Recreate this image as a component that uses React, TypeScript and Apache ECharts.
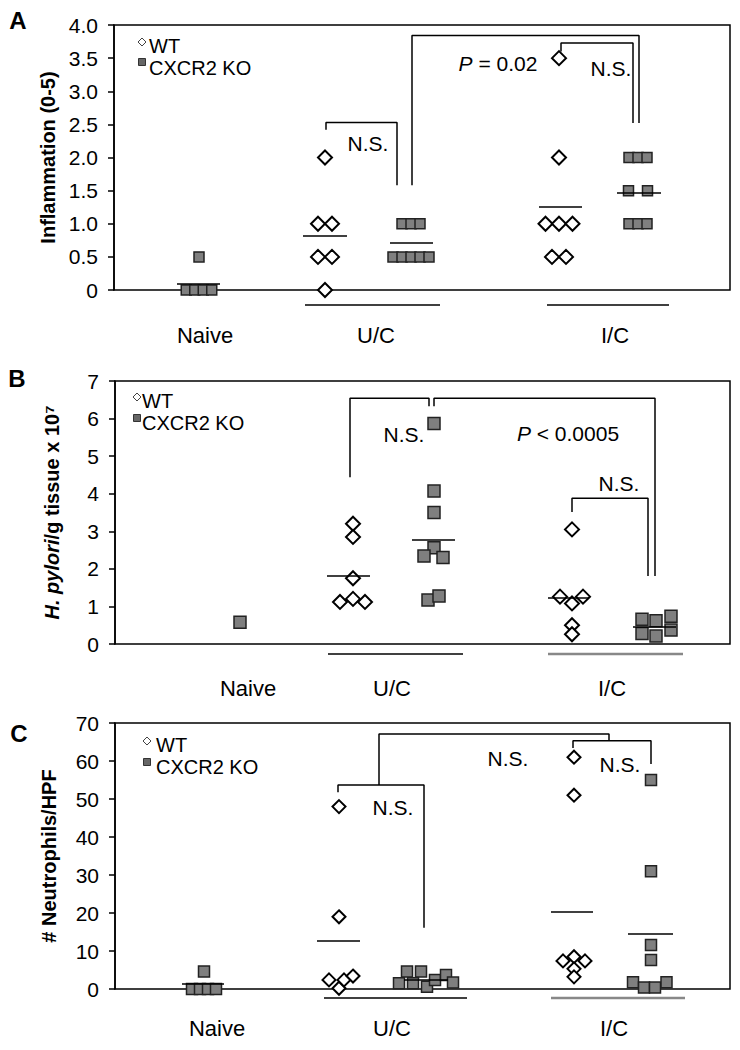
import React, { useEffect, useRef } from 'react';
import * as echarts from 'echarts';

const FONT = '"Liberation Sans", Arial, Helvetica, sans-serif';

// ---------- text content ----------
const categories = ['Naive', 'U/C', 'I/C'];
const groupNames = ['WT', 'CXCR2 KO'];
const panelLetters = ['A', 'B', 'C'];
const aTickLabels = ['0', '0.5', '1.0', '1.5', '2.0', '2.5', '3.0', '3.5', '4.0'];
const bTickLabels = ['0', '1', '2', '3', '4', '5', '6', '7'];
const cTickLabels = ['0', '10', '20', '30', '40', '50', '60', '70'];

// ---------- Panel A: Inflammation (0-5) ----------
const aNaiveKO = [0.5, 0, 0, 0, 0];
const aUcWT = [2, 1, 1, 0.5, 0.5, 0];
const aUcKO = [1, 1, 1, 0.5, 0.5, 0.5, 0.5, 0.5];
const aIcWT = [3.5, 2, 1, 1, 1, 0.5, 0.5];
const aIcKO = [2, 2, 2, 1.5, 1.5, 1, 1, 1];
const aMeanWT = [null, 0.82, 1.25];
const aMeanKO = [0.1, 0.72, 1.47];

// ---------- Panel B: H. pylori/g tissue x 10^7 ----------
const bNaiveKO = [0.58];
const bUcWT = [3.2, 2.85, 1.75, 1.12, 1.2, 1.12];
const bUcKO = [5.87, 4.07, 3.5, 2.56, 2.34, 2.3, 1.17, 1.28];
const bIcWT = [3.05, 1.26, 1.08, 1.26, 0.5, 0.26];
const bIcKO = [0.66, 0.28, 0.62, 0.21, 0.74, 0.37];
const bMeanWT = [null, 1.82, 1.23];
const bMeanKO = [null, 2.77, 0.46];

// ---------- Panel C: # Neutrophils/HPF ----------
const cNaiveKO = [4.6, 0, 0, 0, 0];
const cUcWT = [48, 19, 2.4, 0.2, 2.4, 3.4];
const cUcKO = [4.6, 4.6, 1.5, 1.5, 0.6, 2.4, 3.7, 1.7];
const cIcWT = [61, 51, 7.4, 8.5, 7.4, 5.3, 3.2];
const cIcKO = [55, 31, 11.6, 7.6, 1.8, 0.4, 0.4, 1.8];
const cMeanWT = [null, 12.7, 20.2];
const cMeanKO = [1.5, 2.5, 14.5];

// ---------- layout (pixels) ----------
type Panel = any;
const panels: Panel[] = [
  {
    grid: { left: 114, top: 25, width: 616, height: 265 },
    yMin: 0, yMax: 4, yInt: 0.5, ticks: aTickLabels,
    title: 'Inflammation (0-5)', nameGap: 56,
    sq: 10, dm: 14,
    wt: [null, aUcWT, aIcWT], ko: [aNaiveKO, aUcKO, aIcKO],
    meanWT: aMeanWT, meanKO: aMeanKO,
    cWT: [null, 325, 559], cKO: [199, 411, 638],
    sWT: [null, [0, -7, 7, -7, 7, 0], [0, 0, -13.5, 0, 13.5, -7, 7]],
    sKO: [[0, -12.75, -4.25, 4.25, 12.75], [-9, 0, 9, -18, -9, 0, 9, 18], [-9, 0, 9, -9.5, 9.5, -9, 0, 9]],
    mWT: [null, [303, 347], [539, 582]], mKO: [[177, 220], [390, 433], [617, 661]],
    brackets: [
      [[326, 2.42], [326, 2.53], [397, 2.53], [397, 1.58]],
      [[412, 1.58], [412, 3.84], [639, 3.84], [639, 2.52]],
      [[561, 3.6], [561, 3.73], [633, 3.73], [633, 2.52]],
    ],
    notes: [
      { t: 'N.S.', x: 368, y: 143 },
      { t: '{i|P} = 0.02', x: 498, y: 63 },
      { t: 'N.S.', x: 611, y: 68 },
    ],
    letter: { x: 18, y: 20 },
    legend: { ix: 142, iy1: 42, iy2: 62, tx: 149, ty1: 46, ty2: 68 },
    under: [{ x1: 305, x2: 440, y: 305, c: '#000' }, { x1: 547, x2: 669, y: 305, c: '#000' }],
    cat: { y: 335, xs: [205, 376, 615] },
  },
  {
    grid: { left: 115, top: 381, width: 615, height: 263 },
    yMin: 0, yMax: 7, yInt: 1, ticks: bTickLabels,
    title: '{i|H. pylori}/g tissue x 10⁷', nameGap: 53,
    sq: 12, dm: 14,
    wt: [null, bUcWT, bIcWT], ko: [bNaiveKO, bUcKO, bIcKO],
    meanWT: bMeanWT, meanKO: bMeanKO,
    cWT: [null, 353, 572], cKO: [240, 434, 656],
    sWT: [null, [0, 0, 0, -13, 0, 12], [0, -12, 0, 11, 0, 0]],
    sKO: [[0], [0, 0, 0, 0, -10, 9, -6, 5], [-14, -14, 0, 0, 15, 15]],
    mWT: [null, [327, 370], [548, 589]], mKO: [null, [412, 455], [633, 676]],
    brackets: [
      [[350, 4.44], [350, 6.54], [429, 6.54], [429, 6.33]],
      [[434, 6.33], [434, 6.54], [655, 6.54], [655, 1.81]],
      [[572, 3.51], [572, 3.88], [648, 3.88], [648, 1.81]],
    ],
    notes: [
      { t: 'N.S.', x: 404, y: 434 },
      { t: '{i|P} < 0.0005', x: 568, y: 433 },
      { t: 'N.S.', x: 619, y: 483 },
    ],
    letter: { x: 17, y: 378 },
    legend: { ix: 137, iy1: 397, iy2: 418, tx: 142, ty1: 401, ty2: 423 },
    under: [{ x1: 328, x2: 463, y: 654, c: '#000' }, { x1: 548, x2: 683, y: 654, c: '#888' }],
    cat: { y: 688, xs: [248, 392, 612] },
  },
  {
    grid: { left: 115, top: 723, width: 615, height: 266 },
    yMin: 0, yMax: 70, yInt: 10, ticks: cTickLabels,
    title: '# Neutrophils/HPF', nameGap: 56,
    sq: 11, dm: 13,
    wt: [null, cUcWT, cIcWT], ko: [cNaiveKO, cUcKO, cIcKO],
    meanWT: cMeanWT, meanKO: cMeanKO,
    cWT: [null, 339, 574], cKO: [204, 426, 651],
    sWT: [null, [0, 0, -10, 0, 5, 14], [0, 0, -11, 0, 11, 0, 0]],
    sKO: [[0, -12, -4, 4, 12], [-19, -5, -27, -13, 1, 9, 20, 27], [0, 0, 0, 0, -18, -7, 4, 15.5]],
    mWT: [null, [317, 360], [551, 593]], mKO: [[182, 224], [404, 448], [628, 673]],
    brackets: [
      [[338, 51.8], [338, 53.7], [424, 53.7], [424, 16.1]],
      [[379, 53.7], [379, 67.1], [609, 67.1], [609, 65.3]],
      [[573, 63.4], [573, 65.3], [651, 65.3], [651, 59.2]],
    ],
    notes: [
      { t: 'N.S.', x: 393, y: 807 },
      { t: 'N.S.', x: 508, y: 758 },
      { t: 'N.S.', x: 620, y: 764 },
    ],
    letter: { x: 19, y: 733 },
    legend: { ix: 147, iy1: 741, iy2: 762, tx: 156, ty1: 745, ty2: 767 },
    under: [{ x1: 324, x2: 467, y: 998, c: '#000' }, { x1: 551, x2: 685, y: 998, c: '#888' }],
    cat: { y: 1028, xs: [217, 392, 614] },
  },
];

function buildOption() {
  const grids: any[] = [];
  const xAxes: any[] = [];
  const yAxes: any[] = [];
  const series: any[] = [];
  const graphics: any[] = [];

  panels.forEach((p, pi) => {
    const g = p.grid;
    const toX = (px: number) => ((px - g.left) / g.width) * 100;
    grids.push({ left: g.left, top: g.top, width: g.width, height: g.height, show: true, borderColor: '#000', borderWidth: 1.5, containLabel: false });
    xAxes.push({ type: 'value', gridIndex: pi, min: 0, max: 100, show: false });
    yAxes.push({
      type: 'value', gridIndex: pi, min: p.yMin, max: p.yMax, interval: p.yInt,
      axisLine: { show: true, lineStyle: { color: '#000', width: 1.5 } },
      axisTick: { show: true, length: 6, lineStyle: { color: '#000', width: 1.5 } },
      splitLine: { show: false },
      axisLabel: {
        color: '#000', fontSize: 21, fontFamily: FONT, margin: 16,
        formatter: (v: number, i: number) => p.ticks[i] ?? String(v),
      },
      name: p.title, nameLocation: 'middle', nameGap: p.nameGap, nameRotate: 90,
      nameTextStyle: {
        color: '#000', fontSize: 20, fontWeight: 'bold', fontFamily: FONT,
        rich: { i: { fontStyle: 'italic', fontWeight: 'bold', fontSize: 20, fontFamily: FONT, color: '#000' } },
      },
    });

    const wtData: any[] = [];
    const koData: any[] = [];
    const wtMeans: any[] = [];
    const koMeans: any[] = [];
    for (let k = 0; k < categories.length; k++) {
      if (p.wt[k]) {
        p.wt[k].forEach((v: number, i: number) => wtData.push([toX(p.cWT[k] + p.sWT[k][i]), v]));
      }
      if (p.ko[k]) {
        p.ko[k].forEach((v: number, i: number) => koData.push([toX(p.cKO[k] + p.sKO[k][i]), v]));
      }
      if (p.meanWT[k] != null) {
        wtMeans.push([{ coord: [toX(p.mWT[k][0]), p.meanWT[k]] }, { coord: [toX(p.mWT[k][1]), p.meanWT[k]] }]);
      }
      if (p.meanKO[k] != null) {
        koMeans.push([{ coord: [toX(p.mKO[k][0]), p.meanKO[k]] }, { coord: [toX(p.mKO[k][1]), p.meanKO[k]] }]);
      }
    }
    const mlBase = { symbol: 'none', silent: true, label: { show: false }, lineStyle: { color: '#000', width: 1.5, type: 'solid' }, z: 10 };
    series.push({
      type: 'scatter', name: groupNames[0], xAxisIndex: pi, yAxisIndex: pi,
      symbol: 'diamond', symbolSize: p.dm, data: wtData,
      itemStyle: { color: '#fff', borderColor: '#000', borderWidth: 2, opacity: 1 },
      markLine: { ...mlBase, data: wtMeans }, z: 3,
    });
    series.push({
      type: 'scatter', name: groupNames[1], xAxisIndex: pi, yAxisIndex: pi,
      symbol: 'rect', symbolSize: p.sq, data: koData,
      itemStyle: { color: '#7f7f7f', borderColor: '#222', borderWidth: 1.5, opacity: 1 },
      markLine: { ...mlBase, data: koMeans }, z: 3,
    });
    p.brackets.forEach((b: number[][]) => {
      series.push({
        type: 'line', xAxisIndex: pi, yAxisIndex: pi, symbol: 'none', silent: true,
        data: b.map((pt) => [toX(pt[0]), pt[1]]),
        lineStyle: { color: '#000', width: 1.5 }, z: 2,
      });
    });

    // panel letter
    graphics.push({ type: 'text', x: p.letter.x, y: p.letter.y, style: { text: panelLetters[pi], font: `bold 24px ${FONT}`, fill: '#000', textAlign: 'center', textVerticalAlign: 'middle' } });
    // legend
    const L = p.legend;
    graphics.push({ type: 'polygon', shape: { points: [[L.ix, L.iy1 - 4], [L.ix + 4, L.iy1], [L.ix, L.iy1 + 4], [L.ix - 4, L.iy1]] }, style: { fill: '#fff', stroke: '#444', lineWidth: 1 } });
    graphics.push({ type: 'rect', shape: { x: L.ix - 3.5, y: L.iy2 - 3.5, width: 7, height: 7 }, style: { fill: '#666', stroke: '#333', lineWidth: 1 } });
    graphics.push({ type: 'text', x: L.tx, y: L.ty1, style: { text: groupNames[0], font: `20px ${FONT}`, fill: '#000', textAlign: 'left', textVerticalAlign: 'middle' } });
    graphics.push({ type: 'text', x: L.tx, y: L.ty2, style: { text: groupNames[1], font: `20px ${FONT}`, fill: '#000', textAlign: 'left', textVerticalAlign: 'middle' } });
    // annotation texts
    p.notes.forEach((n: any) => {
      graphics.push({
        type: 'text', x: n.x, y: n.y,
        style: {
          text: n.t, font: `21px ${FONT}`, fill: '#000', textAlign: 'center', textVerticalAlign: 'middle',
          rich: { i: { fontStyle: 'italic', fontSize: 21, fontFamily: FONT, fill: '#000' } },
        },
      });
    });
    // group underlines
    p.under.forEach((u: any) => {
      graphics.push({ type: 'line', shape: { x1: u.x1, y1: u.y, x2: u.x2, y2: u.y }, style: { stroke: u.c, lineWidth: u.c === '#000' ? 1.5 : 2.5 } });
    });
    // category labels
    categories.forEach((c, k) => {
      graphics.push({ type: 'text', x: p.cat.xs[k], y: p.cat.y, style: { text: c, font: `22px ${FONT}`, fill: '#000', textAlign: 'center', textVerticalAlign: 'middle' } });
    });
  });

  return {
    animation: false,
    backgroundColor: '#fff',
    textStyle: { fontFamily: FONT },
    grid: grids,
    xAxis: xAxes,
    yAxis: yAxes,
    series,
    graphic: graphics,
  };
}

export default function App() {
  const ref = useRef<HTMLDivElement>(null);
  useEffect(() => {
    document.body.style.margin = '0';
    if (!ref.current) return;
    const chart = echarts.init(ref.current, undefined, { renderer: 'svg' });
    chart.setOption(buildOption() as any);
    return () => chart.dispose();
  }, []);
  return <div ref={ref} style={{ width: 740, height: 1050 }} />;
}
